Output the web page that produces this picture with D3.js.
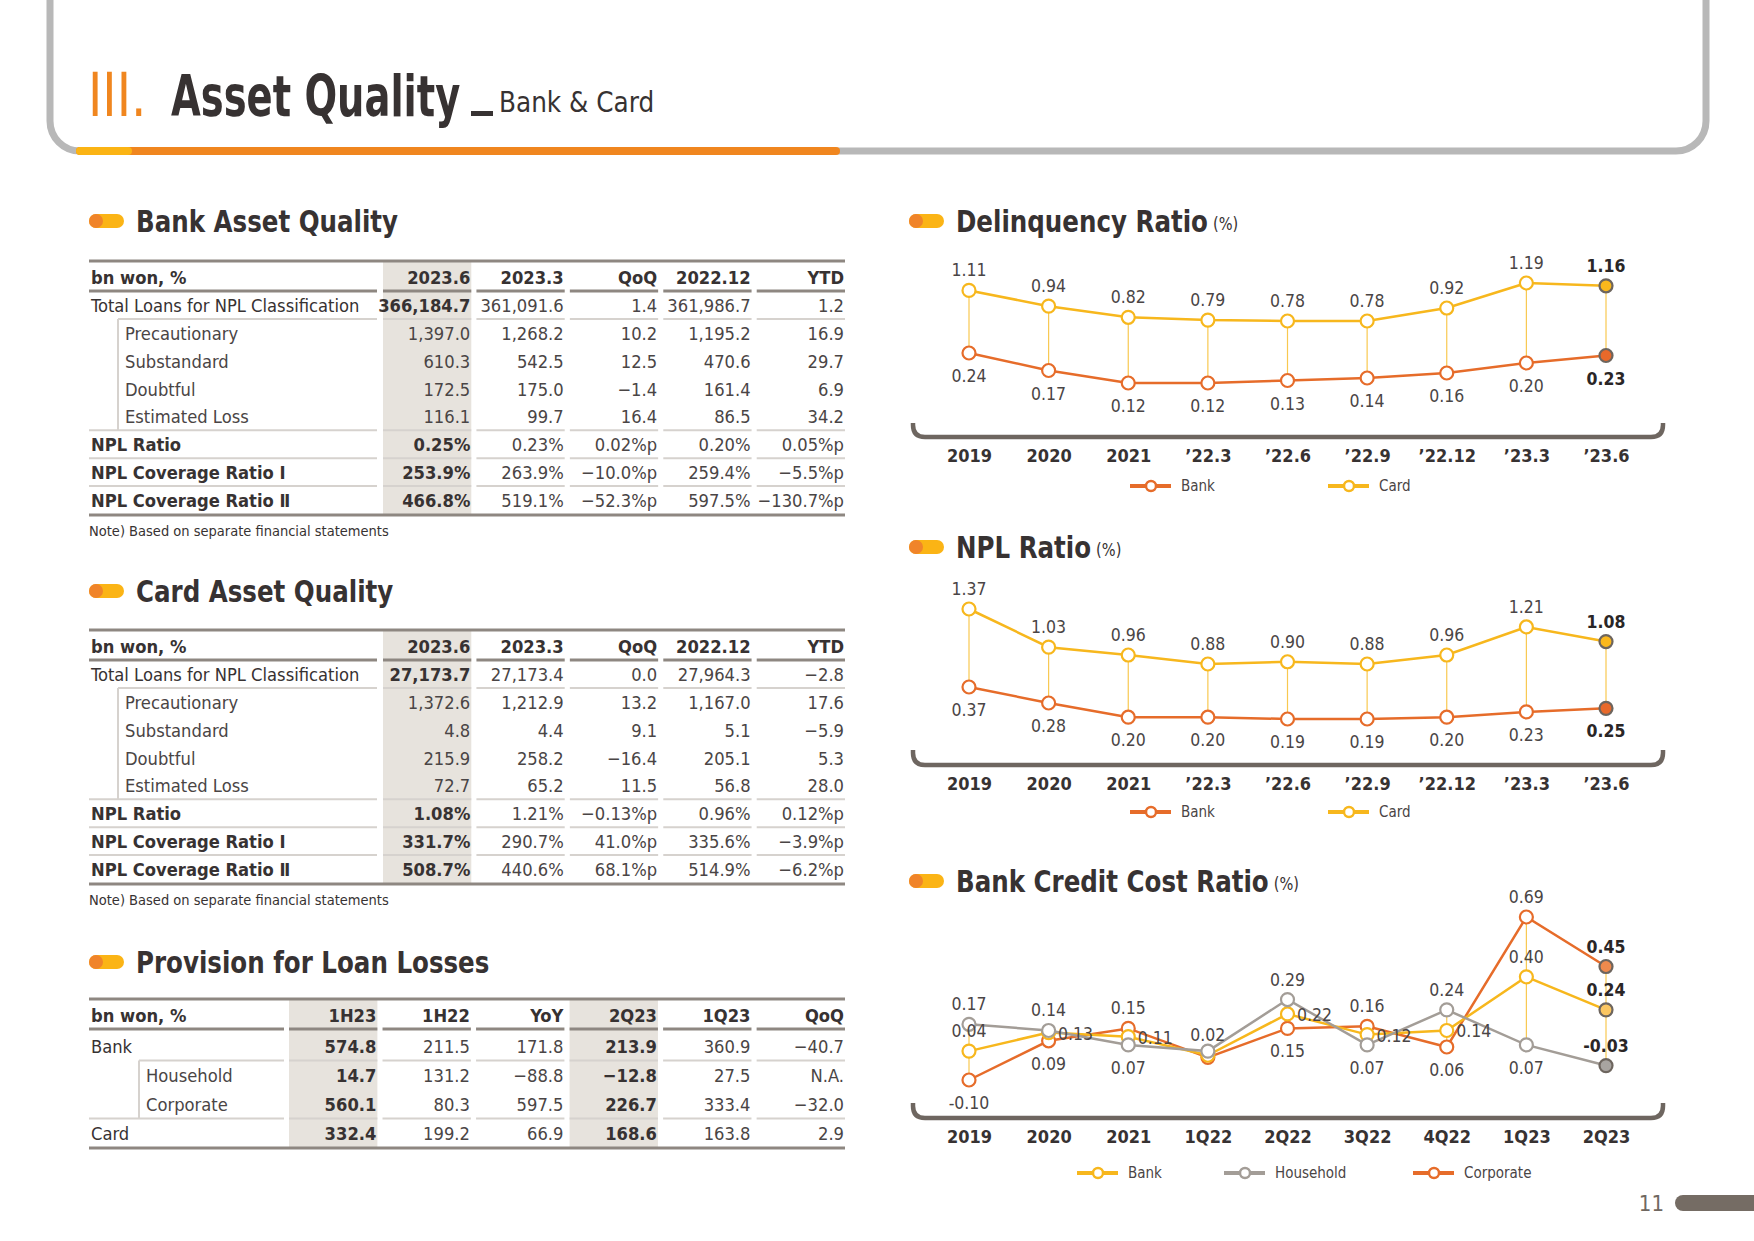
<!DOCTYPE html>
<html>
<head>
<meta charset="utf-8">
<script src="https://cdn.jsdelivr.net/npm/d3@7"></script>
<style>
  body { margin: 0; background: #fff; }
  svg text { font-family: "Liberation Sans Narrow", "DejaVu Sans Condensed", "Roboto", sans-serif; }
</style>
</head>
<body>
<svg id="page" width="1754" height="1241"></svg>
<script>
"use strict"

// ---- table data ----
var bankAqHead = ['bn won, %', '2023.6', '2023.3', 'QoQ', '2022.12', 'YTD'];
var bankAqRows = [
    ['Total Loans for NPL Classification', '366,184.7', '361,091.6', '1.4', '361,986.7', '1.2'],
    ['Precautionary', '1,397.0', '1,268.2', '10.2', '1,195.2', '16.9'],
    ['Substandard', '610.3', '542.5', '12.5', '470.6', '29.7'],
    ['Doubtful', '172.5', '175.0', '\u22121.4', '161.4', '6.9'],
    ['Estimated Loss', '116.1', '99.7', '16.4', '86.5', '34.2'],
    ['NPL Ratio', '0.25%', '0.23%', '0.02%p', '0.20%', '0.05%p'],
    ['NPL Coverage Ratio \u2160', '253.9%', '263.9%', '\u221210.0%p', '259.4%', '\u22125.5%p'],
    ['NPL Coverage Ratio \u2161', '466.8%', '519.1%', '\u221252.3%p', '597.5%', '\u2212130.7%p']
];
var cardAqHead = ['bn won, %', '2023.6', '2023.3', 'QoQ', '2022.12', 'YTD'];
var cardAqRows = [
    ['Total Loans for NPL Classification', '27,173.7', '27,173.4', '0.0', '27,964.3', '\u22122.8'],
    ['Precautionary', '1,372.6', '1,212.9', '13.2', '1,167.0', '17.6'],
    ['Substandard', '4.8', '4.4', '9.1', '5.1', '\u22125.9'],
    ['Doubtful', '215.9', '258.2', '\u221216.4', '205.1', '5.3'],
    ['Estimated Loss', '72.7', '65.2', '11.5', '56.8', '28.0'],
    ['NPL Ratio', '1.08%', '1.21%', '\u22120.13%p', '0.96%', '0.12%p'],
    ['NPL Coverage Ratio \u2160', '331.7%', '290.7%', '41.0%p', '335.6%', '\u22123.9%p'],
    ['NPL Coverage Ratio \u2161', '508.7%', '440.6%', '68.1%p', '514.9%', '\u22126.2%p']
];
var aqKinds = ['main', 'sub', 'sub', 'sub', 'sub', 'bold', 'bold', 'bold'];

var provHead = ['bn won, %', '1H23', '1H22', 'YoY', '2Q23', '1Q23', 'QoQ'];
var provRows = [
    ['Bank', '574.8', '211.5', '171.8', '213.9', '360.9', '\u221240.7'],
    ['Household', '14.7', '131.2', '\u221288.8', '\u221212.8', '27.5', 'N.A.'],
    ['Corporate', '560.1', '80.3', '597.5', '226.7', '333.4', '\u221232.0'],
    ['Card', '332.4', '199.2', '66.9', '168.6', '163.8', '2.9']
];
var provKinds = ['main', 'sub', 'sub', 'main'];

// ---- chart data ----
var periods = ['2019', '2020', '2021', '\u201922.3', '\u201922.6', '\u201922.9', '\u201922.12', '\u201923.3', '\u201923.6'];
var delinqBank = [0.24, 0.17, 0.12, 0.12, 0.13, 0.14, 0.16, 0.20, 0.23];
var delinqCard = [1.11, 0.94, 0.82, 0.79, 0.78, 0.78, 0.92, 1.19, 1.16];
var nplBank = [0.37, 0.28, 0.20, 0.20, 0.19, 0.19, 0.20, 0.23, 0.25];
var nplCard = [1.37, 1.03, 0.96, 0.88, 0.90, 0.88, 0.96, 1.21, 1.08];

var costPeriods = ['2019', '2020', '2021', '1Q22', '2Q22', '3Q22', '4Q22', '1Q23', '2Q23'];
var costBank = [0.04, 0.13, 0.11, 0.02, 0.22, 0.12, 0.14, 0.40, 0.24];
var costHousehold = [0.17, 0.14, 0.07, 0.04, 0.29, 0.07, 0.24, 0.07, -0.03];
var costCorporate = [-0.10, 0.09, 0.15, 0.01, 0.15, 0.16, 0.06, 0.69, 0.45];
// where each value label sits: a = above, b = below, r = right, n = none
var costBankSide = ['a', 'r', 'r', 'a', 'r', 'r', 'r', 'a', 'a'];
var costHouseholdSide = ['a', 'a', 'b', 'n', 'a', 'b', 'a', 'b', 'a'];
var costCorporateSide = ['b', 'b', 'a', 'n', 'b', 'a', 'b', 'a', 'a'];

var ORANGE = '#e66c2a', YELLOW = '#f7b71d', GRAY = '#a39d97';
var DARK = '#373232';

var svg = d3.select('#page');

// text squeezed horizontally, the source font is a narrow one
function narrowText(g, x, y, str, sx) {
    return g.append('text').attr('transform', 'translate(' + x + ',' + y + ') scale(' + sx + ',1)').text(str);
}

// ---- page frame and title ----
svg.append('path')
    .attr('d', 'M50,-10 L50,121 A30,30 0 0 0 80,151 L1676,151 A30,30 0 0 0 1706,121 L1706,-10')
    .attr('fill', 'none').attr('stroke', '#b8b8b8').attr('stroke-width', 7);
svg.append('line').attr('x1', 80).attr('x2', 836).attr('y1', 151).attr('y2', 151)
    .attr('stroke', '#f0861f').attr('stroke-width', 8).attr('stroke-linecap', 'round');
svg.append('line').attr('x1', 80).attr('x2', 128).attr('y1', 151).attr('y2', 151)
    .attr('stroke', '#fbb414').attr('stroke-width', 8).attr('stroke-linecap', 'round');

narrowText(svg, 88, 116, 'III.', 0.9).attr('fill', '#f0861f').attr('font-size', 60);
narrowText(svg, 171, 116, 'Asset Quality', 0.75)
    .attr('fill', DARK).attr('font-size', 57).attr('font-weight', 'bold');
svg.append('rect').attr('x', 471).attr('y', 111).attr('width', 22).attr('height', 5).attr('fill', DARK);
narrowText(svg, 499, 112, 'Bank & Card', 0.95).attr('fill', DARK).attr('font-size', 29);

// page number
svg.append('text').attr('x', 1664).attr('y', 1211).text('11')
    .attr('fill', '#6f6760').attr('font-size', 22).attr('text-anchor', 'end');
svg.append('rect').attr('x', 1675).attr('y', 1195).attr('width', 100).attr('height', 16)
    .attr('rx', 8).attr('fill', '#756c64');

function sectionTitle(x, y, label, unit) {
    var g = svg.append('g');
    g.append('rect').attr('x', x).attr('y', y - 7).attr('width', 35).attr('height', 14)
        .attr('rx', 7).attr('fill', '#fbb415');
    g.append('circle').attr('cx', x + 7).attr('cy', y).attr('r', 7).attr('fill', '#f0842a');
    var sx = 0.88;
    var t = narrowText(g, x + 47, y + 11, label, sx)
        .attr('fill', DARK).attr('font-size', 31).attr('font-weight', 'bold');
    if (unit) {
        var w = t.node().getComputedTextLength() * sx;
        narrowText(g, x + 47 + w + 5, y + 9, unit, 0.9).attr('fill', DARK).attr('font-size', 18);
    }
}

sectionTitle(89, 221, 'Bank Asset Quality');
sectionTitle(89, 591, 'Card Asset Quality');
sectionTitle(89, 962, 'Provision for Loan Losses');
sectionTitle(909, 221, 'Delinquency Ratio', '(%)');
sectionTitle(909, 547, 'NPL Ratio', '(%)');
sectionTitle(909, 881, 'Bank Credit Cost Ratio', '(%)');

// ---- tables ----
var TFONT = 18.2;
function drawTable(head, rows, kinds, shaded, o) {
    var g = svg.append('g');
    var cols = head.slice(1);
    var x = d3.scaleBand().domain(cols).range([o.colStart, 845]).paddingInner(0.055);
    var y = d3.scalePoint().domain(d3.range(rows.length)).range([o.firstRow, o.lastRow]);
    var top = o.headY - 16, headLine = o.headY + 14, bottom = o.lastRow + 15;

    shaded.forEach(function(c) {
        g.append('rect').attr('x', x(cols[c])).attr('y', top)
            .attr('width', x.bandwidth()).attr('height', bottom - top).attr('fill', '#e7e3dd');
    });

    function segments(yy, labelStart, color, width) {
        var segs = [[labelStart, o.labelRight]].concat(cols.map(function(c) { return [x(c), x(c) + x.bandwidth()]; }));
        segs.forEach(function(s) {
            g.append('line').attr('x1', s[0]).attr('x2', s[1]).attr('y1', yy).attr('y2', yy)
                .attr('stroke', color).attr('stroke-width', width);
        });
    }
    segments(headLine, 89, '#8e8781', 3);

    var subTop = null, subBottom = null;
    for (var i = 0; i < rows.length - 1; i++) {
        if (kinds[i] === 'sub' && kinds[i + 1] === 'sub') continue;
        var yy = (y(i) + y(i + 1)) / 2;
        var start = kinds[i + 1] === 'sub' ? o.indentX : 89;
        segments(yy, start, '#d6d2ce', 2);
        if (kinds[i + 1] === 'sub' && subTop === null) subTop = yy;
        if (kinds[i] === 'sub') subBottom = yy;
    }
    if (subTop !== null) {
        g.append('line').attr('x1', o.indentX).attr('x2', o.indentX)
            .attr('y1', subTop).attr('y2', subBottom === null ? bottom : subBottom)
            .attr('stroke', '#d6d2ce').attr('stroke-width', 2);
    }

    [top, bottom].forEach(function(yy) {
        g.append('line').attr('x1', 89).attr('x2', 845).attr('y1', yy).attr('y2', yy)
            .attr('stroke', '#8e8781').attr('stroke-width', 3);
    });

    // header
    g.append('text').attr('x', 91).attr('y', o.headY + 7).text(head[0])
        .attr('font-size', TFONT).attr('font-weight', 'bold').attr('fill', DARK);
    cols.forEach(function(c) {
        g.append('text').attr('x', x(c) + x.bandwidth() - 1).attr('y', o.headY + 7).text(c)
            .attr('text-anchor', 'end').attr('font-size', TFONT).attr('font-weight', 'bold').attr('fill', DARK);
    });

    rows.forEach(function(r, i) {
        var k = kinds[i];
        g.append('text').attr('x', k === 'sub' ? o.indentX + 7 : 91).attr('y', y(i) + 7).text(r[0])
            .attr('font-size', TFONT).attr('fill', k === 'sub' ? '#4a4545' : DARK)
            .attr('font-weight', k === 'bold' ? 'bold' : 'normal');
        cols.forEach(function(c, j) {
            var isShaded = shaded.indexOf(j) >= 0;
            var bold = isShaded && (k !== 'sub' || o.boldSubs);
            g.append('text').attr('x', x(c) + x.bandwidth() - 1).attr('y', y(i) + 7).text(r[j + 1])
                .attr('text-anchor', 'end').attr('font-size', TFONT)
                .attr('font-weight', bold ? 'bold' : 'normal')
                .attr('fill', bold ? DARK : '#4a4545');
        });
    });

    if (o.note) {
        g.append('text').attr('x', 89).attr('y', bottom + 21).text(o.note)
            .attr('font-size', 14.5).attr('fill', DARK);
    }
}

var note = 'Note) Based on separate financial statements';
drawTable(bankAqHead, bankAqRows, aqKinds, [0],
    {colStart: 383, labelRight: 377, headY: 277, firstRow: 305, lastRow: 500, indentX: 118, note: note});
drawTable(cardAqHead, cardAqRows, aqKinds, [0],
    {colStart: 383, labelRight: 377, headY: 646, firstRow: 674, lastRow: 869, indentX: 118, note: note});
drawTable(provHead, provRows, provKinds, [0, 3],
    {colStart: 289, labelRight: 284, headY: 1015, firstRow: 1046, lastRow: 1133, indentX: 139, boldSubs: true});

// ---- charts ----
function bracketAxis(g, x, top, bottom) {
    var r = 12;
    g.append('path')
        .attr('d', 'M913,' + top + ' L913,' + (bottom - r) + ' Q913,' + bottom + ' ' + (913 + r) + ',' + bottom +
            ' L' + (1663 - r) + ',' + bottom + ' Q1663,' + bottom + ' 1663,' + (bottom - r) + ' L1663,' + top)
        .attr('fill', 'none').attr('stroke', '#6e6660').attr('stroke-width', 4.5);
    var ax = g.append('g').attr('transform', 'translate(0,' + (bottom + 2) + ')')
        .call(d3.axisBottom(x).tickSize(0).tickPadding(10));
    ax.select('.domain').remove();
    ax.selectAll('text').attr('font-size', 18).attr('font-weight', 'bold').attr('fill', DARK)
        .style('font-family', '"Liberation Sans Narrow", "DejaVu Sans Condensed", sans-serif');
}

function legend(g, y, items) {
    items.forEach(function(it) {
        g.append('line').attr('x1', it.x).attr('x2', it.x + 41).attr('y1', y).attr('y2', y)
            .attr('stroke', it.color).attr('stroke-width', 4);
        g.append('circle').attr('cx', it.x + 21).attr('cy', y).attr('r', 5)
            .attr('fill', '#fff').attr('stroke', it.color).attr('stroke-width', 2.5);
        g.append('text').attr('x', it.x + 51).attr('y', y + 5).text(it.name)
            .attr('font-size', 15).attr('fill', '#4a4545');
    });
}

function drawSeries(g, x, y, cats, vals, color, lastFill) {
    var line = d3.line().x(function(d, i) { return x(cats[i]); }).y(function(d) { return y(d); });
    g.append('path').datum(vals).attr('d', line)
        .attr('fill', 'none').attr('stroke', color).attr('stroke-width', 2.5);
    g.selectAll(null).data(vals).enter().append('circle')
        .attr('cx', function(d, i) { return x(cats[i]); })
        .attr('cy', function(d) { return y(d); })
        .attr('r', 6.5)
        .attr('fill', function(d, i) { return i === vals.length - 1 ? lastFill : '#fff'; })
        .attr('stroke', function(d, i) { return i === vals.length - 1 ? '#6d655e' : color; })
        .attr('stroke-width', 2.2);
}

function valueLabels(g, x, y, cats, vals, sides) {
    var last = vals.length - 1;
    var items = vals.map(function(v, i) { return {v: v, i: i, side: sides[i]}; })
        .filter(function(d) { return d.side !== 'n'; });
    g.selectAll(null).data(items).enter().append('text')
        .attr('x', function(d) { return x(cats[d.i]) + (d.side === 'r' ? 27 : 0); })
        .attr('y', function(d) {
            return y(d.v) + (d.side === 'a' ? -14 : d.side === 'b' ? 29 : 7);
        })
        .attr('text-anchor', 'middle')
        .attr('font-size', 17.5)
        .attr('font-weight', function(d) { return d.i === last ? 'bold' : 'normal'; })
        .attr('fill', function(d) { return d.i === last ? '#2a2626' : '#4a4545'; })
        .text(function(d) { return (d.v < 0 ? '-' : '') + Math.abs(d.v).toFixed(2); });
}

function drawDual(bankVals, cardVals, cardDomain, cardRange, bankDomain, bankRange, axisTop, axisBottom, legendY) {
    var g = svg.append('g');
    var x = d3.scalePoint().domain(periods).range([969, 1606]);
    var yCard = d3.scaleLinear().domain(cardDomain).range(cardRange);
    var yBank = d3.scaleLinear().domain(bankDomain).range(bankRange);

    g.selectAll(null).data(periods).enter().append('line')
        .attr('x1', function(d) { return x(d); }).attr('x2', function(d) { return x(d); })
        .attr('y1', function(d, i) { return yCard(cardVals[i]); })
        .attr('y2', function(d, i) { return yBank(bankVals[i]); })
        .attr('stroke', '#f8c850').attr('stroke-width', 1.2);

    drawSeries(g, x, yCard, periods, cardVals, YELLOW, '#fbb81c');
    drawSeries(g, x, yBank, periods, bankVals, ORANGE, '#e8692a');
    valueLabels(g, x, yCard, periods, cardVals, periods.map(function() { return 'a'; }));
    valueLabels(g, x, yBank, periods, bankVals, periods.map(function() { return 'b'; }));

    bracketAxis(g, x, axisTop, axisBottom);
    legend(g, legendY, [{x: 1130, name: 'Bank', color: ORANGE}, {x: 1328, name: 'Card', color: YELLOW}]);
}

drawDual(delinqBank, delinqCard, [0.78, 1.19], [321, 283], [0.12, 0.24], [383, 353], 423, 437, 486);
drawDual(nplBank, nplCard, [0.88, 1.37], [664, 609], [0.19, 0.37], [719, 687], 750, 765, 812);

// credit cost chart
(function() {
    var g = svg.append('g');
    var x = d3.scalePoint().domain(costPeriods).range([969, 1606]);
    var y = d3.scaleLinear().domain([-0.10, 0.69]).range([1080, 917]);

    g.selectAll(null).data(costPeriods).enter().append('line')
        .attr('x1', function(d) { return x(d); }).attr('x2', function(d) { return x(d); })
        .attr('y1', function(d, i) { return y(Math.max(costBank[i], costHousehold[i], costCorporate[i])); })
        .attr('y2', function(d, i) { return y(Math.min(costBank[i], costHousehold[i], costCorporate[i])); })
        .attr('stroke', '#f8c850').attr('stroke-width', 1.2);

    drawSeries(g, x, y, costPeriods, costCorporate, ORANGE, '#ef8a4d');
    drawSeries(g, x, y, costPeriods, costBank, YELLOW, '#fbc661');
    drawSeries(g, x, y, costPeriods, costHousehold, GRAY, '#a8a4a0');
    valueLabels(g, x, y, costPeriods, costCorporate, costCorporateSide);
    valueLabels(g, x, y, costPeriods, costBank, costBankSide);
    valueLabels(g, x, y, costPeriods, costHousehold, costHouseholdSide);

    bracketAxis(g, x, 1103, 1118);
    legend(g, 1173, [
        {x: 1077, name: 'Bank', color: YELLOW},
        {x: 1224, name: 'Household', color: GRAY},
        {x: 1413, name: 'Corporate', color: ORANGE}
    ]);
})();
</script>
</body>
</html>
